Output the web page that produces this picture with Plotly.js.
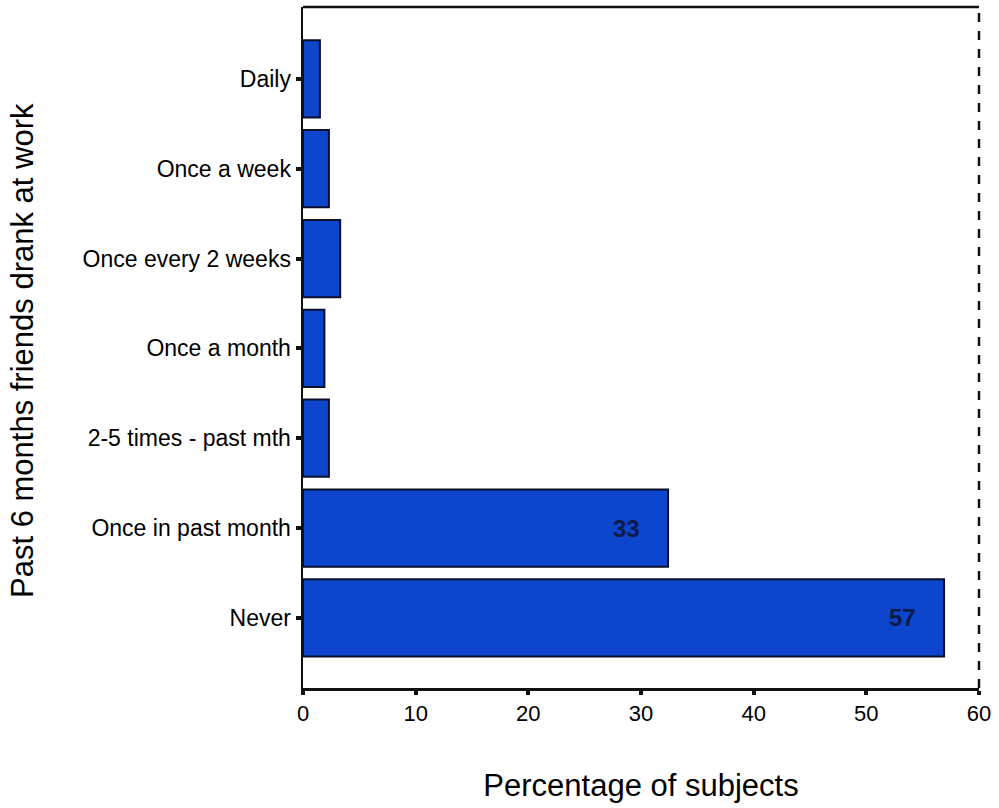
<!DOCTYPE html>
<html><head><meta charset="utf-8">
<script src="https://cdn.plot.ly/plotly-3.0.1.min.js"></script>
<style>html,body{margin:0;padding:0;background:#fff}#chart{width:999px;height:808px}</style>
</head><body><div id="chart"></div>
<script>
var categories = ["Never", "Once in past month", "2-5 times - past mth", "Once a month", "Once every 2 weeks", "Once a week", "Daily"];
var values = [56.9, 32.4, 2.3, 1.9, 3.3, 2.3, 1.5];
var barLabels = ["57", "33", "", "", "", "", ""];
var xTicks = [0, 10, 20, 30, 40, 50, 60];

var font = "Liberation Sans, Arial, sans-serif";
var annotations = [];
for (var i = 0; i < categories.length; i++) {
  if (barLabels[i]) {
    annotations.push({x: values[i], y: categories[i], xref: 'x', yref: 'y', text: barLabels[i],
      showarrow: false, xanchor: 'right', xshift: -26,
      font: {family: font, size: 24, color: '#0b1a4a', weight: 'bold'}});
  }
}
annotations.push({x: -0.416, y: 0.496, xref: 'paper', yref: 'paper', textangle: -90,
  text: 'Past 6 months friends drank at work', showarrow: false, xanchor: 'center', yanchor: 'middle',
  font: {size: 31, family: font, color: '#000'}});

var trace = {
  type: 'bar', orientation: 'h', x: values, y: categories,
  width: 0.86,
  marker: {color: '#0d45cc', line: {color: '#0a0f2a', width: 2}},
  hoverinfo: 'none'
};

var layout = {
  width: 999, height: 808,
  margin: {l: 303, r: 20, t: 7, b: 120},
  paper_bgcolor: '#fff', plot_bgcolor: '#fff',
  showlegend: false,
  font: {family: font, size: 23, color: '#000'},
  xaxis: {range: [0, 60], tickvals: xTicks, showgrid: false, zeroline: false,
    showline: true, linecolor: '#111', linewidth: 2.5,
    ticks: 'outside', ticklen: 4, tickwidth: 4, tickcolor: '#111',
    tickfont: {size: 22, family: font, color: '#000'},
    title: {text: 'Percentage of subjects', font: {size: 31, family: font, color: '#000'}, standoff: 50}},
  yaxis: {type: 'category', range: [-0.78, 6.8], showgrid: false, zeroline: false,
    showline: true, linecolor: '#111', linewidth: 2.5,
    ticks: 'outside', ticklen: 5, tickwidth: 4, tickcolor: '#111',
    tickfont: {size: 23, family: font, color: '#000'}},
  shapes: [
    {type: 'line', xref: 'paper', yref: 'paper', x0: 0, x1: 1, y0: 1, y1: 1, line: {color: '#111', width: 2.5}},
    {type: 'line', xref: 'paper', yref: 'paper', x0: 1, x1: 1, y0: 0, y1: 1, line: {color: '#111', width: 2.5, dash: 'dash'}}
  ],
  annotations: annotations
};
Plotly.newPlot('chart', [trace], layout, {displayModeBar: false, staticPlot: true});
</script></body></html>
